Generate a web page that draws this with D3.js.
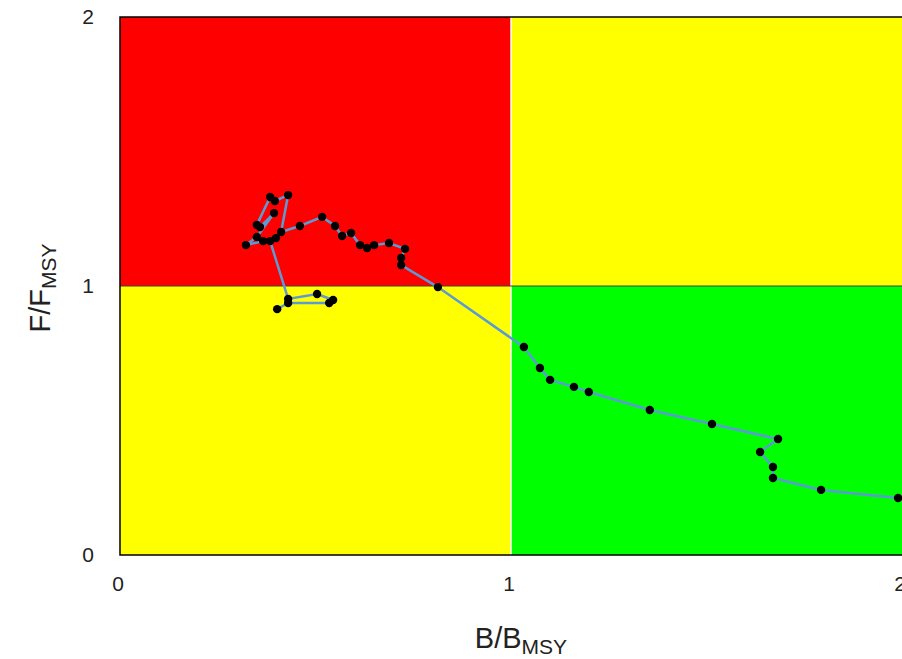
<!DOCTYPE html>
<html>
<head>
<meta charset="utf-8">
<script src="https://cdn.jsdelivr.net/npm/d3@7"></script>
<style>
  body { margin: 0; background: #fff; overflow: hidden; }
  svg { display: block; font-family: "Liberation Sans", Arial, sans-serif; }
</style>
</head>
<body>
<div id="chart"></div>
<script>
// B/BMSY and F/FMSY trajectory, in plotting order
const bRatio = [1.990, 1.793, 1.670, 1.670, 1.637, 1.683, 1.514, 1.355, 1.199, 1.161,
  1.100, 1.074, 1.033, 0.813, 0.719, 0.719, 0.729, 0.688, 0.650, 0.632,
  0.614, 0.591, 0.568, 0.550, 0.517, 0.460, 0.412, 0.430, 0.396, 0.384,
  0.350, 0.358, 0.394, 0.350, 0.322, 0.366, 0.399, 0.384, 0.430, 0.504,
  0.545, 0.535, 0.430, 0.402]
const fRatio = [0.212, 0.242, 0.286, 0.327, 0.383, 0.431, 0.487, 0.539, 0.606, 0.625,
  0.651, 0.695, 0.773, 0.996, 1.078, 1.104, 1.138, 1.160, 1.152, 1.141,
  1.152, 1.197, 1.186, 1.223, 1.257, 1.223, 1.201, 1.338, 1.316, 1.331,
  1.227, 1.219, 1.271, 1.182, 1.152, 1.167, 1.178, 1.167, 0.952, 0.970,
  0.948, 0.937, 0.937, 0.914]
const xTicks = [0, 1, 2]
const yTicks = [0, 1, 2]
// quadrants: [x0, x1, y0, y1, colour]
const zones = [
  [0, 1, 1, 2, "#ff0000"],
  [1, 2, 1, 2, "#ffff00"],
  [0, 1, 0, 1, "#ffff00"],
  [1, 2, 0, 1, "#00ff00"]
]

const width = 902, height = 659
const x = d3.scaleLinear().domain([0, 2]).range([120, 902])
const y = d3.scaleLinear().domain([0, 2]).range([555, 17])

const svg = d3.select("#chart").append("svg")
  .attr("width", width)
  .attr("height", height)

svg.append("g").selectAll("rect")
  .data(zones)
  .join("rect")
  .attr("x", d => x(d[0]))
  .attr("y", d => y(d[3]))
  .attr("width", d => x(d[1]) - x(d[0]))
  .attr("height", d => y(d[2]) - y(d[3]))
  .attr("fill", d => d[4])

// divider lines
svg.append("line")
  .attr("x1", x(1)).attr("x2", x(1))
  .attr("y1", y(2)).attr("y2", y(0))
  .attr("stroke", "#fff").attr("stroke-width", 1.5)
svg.append("line")
  .attr("x1", x(0)).attr("x2", x(2))
  .attr("y1", y(1)).attr("y2", y(1))
  .attr("stroke", "#404040").attr("stroke-width", 1)

// frame
svg.append("path")
  .attr("d", `M${x(2)},${y(2)}H${x(0)}V${y(0)}H${x(2)}`)
  .attr("fill", "none")
  .attr("stroke", "#000")
  .attr("stroke-width", 1.5)

const pts = bRatio.map((b, i) => [b, fRatio[i]])

svg.append("path")
  .datum(pts)
  .attr("fill", "none")
  .attr("stroke", "#5b9bd5")
  .attr("stroke-width", 2.5)
  .attr("d", d3.line().x(d => x(d[0])).y(d => y(d[1])))

svg.append("g").selectAll("circle")
  .data(pts)
  .join("circle")
  .attr("cx", d => x(d[0]))
  .attr("cy", d => y(d[1]))
  .attr("r", 4.2)
  .attr("fill", "#000")

// tick labels
svg.append("g").selectAll("text")
  .data(yTicks)
  .join("text")
  .attr("x", 94)
  .attr("y", d => y(d))
  .attr("dy", "0.35em")
  .attr("text-anchor", "end")
  .style("font-size", "21px")
  .attr("fill", "#222")
  .text(d => d)

svg.append("g").selectAll("text")
  .data(xTicks)
  .join("text")
  .attr("x", d => x(d) - 2)
  .attr("y", 584)
  .attr("dy", "0.35em")
  .attr("text-anchor", "middle")
  .style("font-size", "21px")
  .attr("fill", "#222")
  .text(d => d)

// axis titles
const xt = svg.append("text")
  .attr("x", 521)
  .attr("y", 648)
  .attr("text-anchor", "middle")
  .style("font-size", "29px")
  .attr("fill", "#222")
xt.append("tspan").text("B/B")
xt.append("tspan").attr("dy", 6).style("font-size", "21px").text("MSY")

const yt = svg.append("text")
  .attr("transform", "translate(50,288) rotate(-90)")
  .attr("text-anchor", "middle")
  .style("font-size", "29px")
  .attr("fill", "#222")
yt.append("tspan").text("F/F")
yt.append("tspan").attr("dy", 6).style("font-size", "21px").text("MSY")
</script>
</body>
</html>
